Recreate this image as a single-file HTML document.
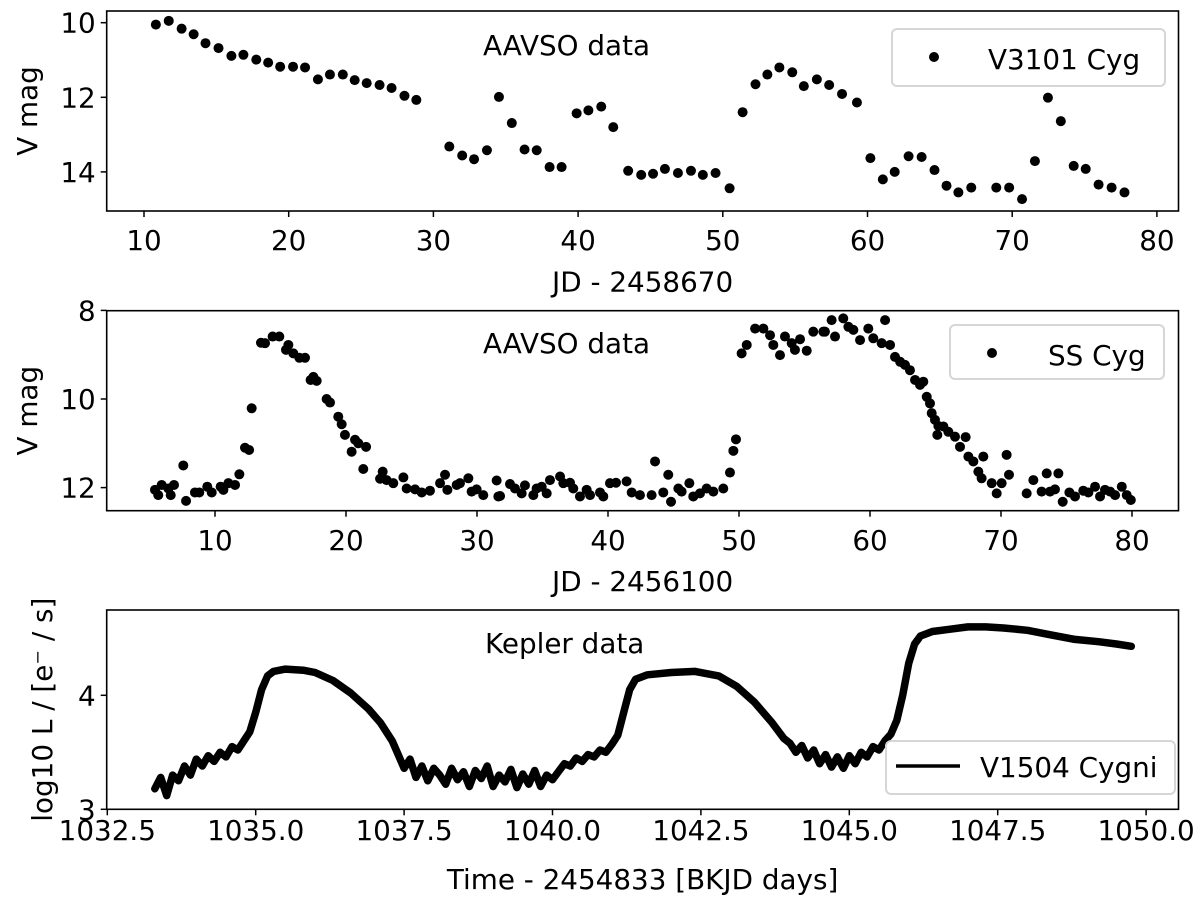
<!DOCTYPE html>
<html><head><meta charset="utf-8"><style>
html,body{margin:0;padding:0;background:#fff;}
svg{display:block;font-family:"DejaVu Sans","Liberation Sans",sans-serif;}
</style></head><body>
<svg id="fig" width="1200" height="906" viewBox="0 0 1200 906" xmlns="http://www.w3.org/2000/svg"></svg>
<script>
// ---- Panel 1: V3101 Cyg ----
const p1Days = [10.82,11.71,12.6,13.43,14.25,15.15,16.04,16.87,17.76,18.58,19.41,20.3,21.13,22.02,22.85,23.74,24.56,25.39,26.28,27.11,28.0,28.82,31.1,31.99,32.81,33.7,34.53,35.42,36.3,37.14,38.03,38.86,39.9,40.71,41.6,42.43,43.46,44.36,45.18,46.0,46.9,47.8,48.62,49.5,50.47,51.37,52.26,53.08,53.91,54.8,55.6,56.5,57.35,58.24,59.27,60.2,61.06,61.88,62.84,63.74,64.63,65.46,66.28,67.17,68.9,69.79,70.68,71.57,72.47,73.36,74.25,75.08,75.97,76.87,77.76];
const p1Mag = [10.05,9.95,10.16,10.31,10.55,10.68,10.89,10.86,10.99,11.07,11.18,11.18,11.2,11.52,11.39,11.39,11.54,11.62,11.67,11.75,11.96,12.07,13.32,13.56,13.66,13.42,11.99,12.69,13.4,13.42,13.87,13.87,12.43,12.35,12.25,12.8,13.97,14.08,14.05,13.92,14.03,13.97,14.08,14.03,14.44,12.4,11.65,11.39,11.2,11.33,11.7,11.52,11.67,11.91,12.14,13.63,14.2,14.0,13.58,13.6,13.95,14.37,14.55,14.42,14.42,14.42,14.73,13.71,12.01,12.64,13.84,13.92,14.34,14.42,14.55];
const p1XTicks = [10,20,30,40,50,60,70,80];
const p1YTicks = [10,12,14];

// ---- Panel 2: SS Cyg ----
const p2Days = [5.42,5.67,5.93,6.44,6.62,6.87,7.58,7.79,8.47,8.8,9.41,9.75,10.43,10.64,11.02,11.53,11.86,12.29,12.6,12.8,13.51,13.82,14.4,14.91,15.42,15.6,15.98,16.44,16.87,17.3,17.51,17.76,18.52,18.78,19.41,19.67,19.92,20.43,20.69,20.94,21.32,21.53,22.6,22.8,23.1,23.61,24.38,24.63,25.27,25.78,26.41,27.18,27.56,27.74,28.45,28.7,29.34,29.59,29.97,30.48,31.5,31.63,
31.76,32.52,32.9,33.41,33.66,34.3,34.55,34.94,35.32,35.57,36.34,36.59,37.1,37.35,37.86,38.37,38.63,39.39,39.64,40.15,40.61,41.42,41.81,42.44,43.33,43.59,44.22,44.6,44.81,45.37,45.62,46.21,46.51,47.02,47.53,48.04,48.8,49.31,49.57,49.77,50.2,50.59,51.23,51.86,52.37,52.62,53.13,53.51,54.02,54.27,54.66,55.17,55.67,56.44,57.07,57.33,
56.56,57.96,58.35,58.73,59.24,59.87,60.25,60.89,61.15,61.53,61.91,62.3,62.67,63.05,63.44,63.82,64.07,64.33,64.58,64.71,64.96,65.14,65.22,65.6,65.98,66.49,66.87,67.3,67.51,67.89,68.27,68.52,68.65,69.29,69.67,70.05,70.43,70.61,71.96,72.47,73.1,73.49,73.74,74.12,74.38,74.71,75.22,75.65,76.28,76.67,77.18,77.56,77.94,78.33,78.71,79.22,79.6,79.91];
const p2Mag = [12.05,12.17,11.94,12.02,12.17,11.94,11.5,12.3,12.11,12.11,11.98,12.11,11.98,12.05,11.9,11.94,11.7,11.1,11.15,10.21,8.73,8.74,8.59,8.59,8.89,8.78,8.97,9.07,9.07,9.57,9.5,9.59,10.0,10.08,10.4,10.57,10.81,11.19,10.92,11.0,11.58,11.08,11.8,11.64,11.83,11.9,11.77,12.02,12.04,12.11,12.07,11.9,11.71,12.05,11.94,11.9,11.79,12.09,12.04,12.17,11.84,12.2,
12.19,11.92,12.02,12.13,11.95,12.17,12.02,11.98,12.13,11.83,11.75,11.9,11.89,12.02,12.2,12.05,12.17,12.11,12.2,11.9,11.89,11.86,12.11,12.17,12.17,11.41,12.11,11.71,12.32,12.02,12.09,11.9,12.2,12.13,12.02,12.09,12.02,11.66,11.17,10.91,8.97,8.78,8.41,8.41,8.56,8.78,9.01,8.59,8.74,8.89,8.65,8.91,8.48,8.48,8.22,8.59,
8.48,8.18,8.37,8.44,8.67,8.41,8.63,8.74,8.22,8.78,9.05,9.16,9.23,9.35,9.57,9.68,9.61,9.95,10.1,10.32,10.47,10.81,10.61,10.62,10.74,10.85,11.08,10.86,11.3,11.41,11.64,11.79,11.3,11.9,12.13,11.9,11.26,11.71,12.13,11.83,12.09,11.68,12.09,12.04,11.68,12.32,12.11,12.2,12.07,12.11,11.98,12.2,12.05,12.09,12.17,11.98,12.17,12.28];
const p2XTicks = [10,20,30,40,50,60,70,80];
const p2YTicks = [8,10,12];

// ---- Panel 3: V1504 Cygni (Kepler) ----
const p3Time = [1033.3,1033.4,1033.5,1033.6,1033.7,1033.8,1033.9,1034.0,1034.1,1034.2,1034.3,1034.4,1034.5,1034.6,1034.7,1034.8,
1034.9,1035.0,1035.1,1035.2,1035.3,1035.5,1035.8,1036.0,1036.3,1036.6,1036.9,1037.1,1037.3,
1037.4,1037.5,1037.6,1037.7,1037.8,1037.9,1038.0,1038.1,1038.2,1038.3,1038.4,1038.5,1038.6,1038.7,1038.8,1038.9,1039.0,1039.1,1039.2,1039.3,1039.4,1039.5,1039.6,1039.7,1039.8,1039.9,1040.0,
1040.1,1040.2,1040.3,1040.4,1040.5,1040.6,1040.7,1040.8,1040.9,1041.0,
1041.1,1041.2,1041.3,1041.4,1041.6,1042.0,1042.4,1042.8,1043.1,1043.4,1043.7,1043.9,
1044.0,1044.1,1044.2,1044.3,1044.4,1044.5,1044.6,1044.7,1044.8,1044.9,1045.0,1045.1,1045.2,1045.3,1045.4,1045.5,1045.6,
1045.7,1045.8,1045.9,1046.0,1046.1,1046.2,1046.4,1046.7,1047.0,1047.3,1047.6,1048.0,1048.4,1048.8,1049.2,1049.5,1049.75];
const p3Flux = [3.18,3.28,3.12,3.3,3.25,3.38,3.3,3.44,3.38,3.47,3.42,3.5,3.46,3.55,3.52,3.6,
3.68,3.85,4.05,4.17,4.21,4.23,4.22,4.2,4.13,4.02,3.88,3.76,3.6,
3.48,3.36,3.44,3.28,3.38,3.25,3.36,3.3,3.22,3.36,3.26,3.33,3.2,3.34,3.27,3.38,3.2,3.3,3.24,3.35,3.19,3.31,3.22,3.34,3.2,3.3,3.26,
3.33,3.4,3.38,3.45,3.42,3.48,3.46,3.52,3.5,3.57,
3.65,3.85,4.05,4.14,4.18,4.2,4.21,4.17,4.08,3.94,3.76,3.62,
3.58,3.5,3.56,3.45,3.52,3.4,3.48,3.37,3.46,3.36,3.47,3.4,3.5,3.46,3.55,3.52,3.6,
3.66,3.78,4.0,4.28,4.45,4.52,4.56,4.58,4.6,4.6,4.59,4.57,4.53,4.49,4.47,4.45,4.43];
const p3XTicks = [1032.5,1035.0,1037.5,1040.0,1042.5,1045.0,1047.5,1050.0];
const p3YTicks = [3,4];

const NS = "http://www.w3.org/2000/svg";
const svg = document.getElementById('fig');
function mk(tag, attrs, parent){
  const e = document.createElementNS(NS, tag);
  for (const k in attrs) e.setAttribute(k, attrs[k]);
  (parent||svg).appendChild(e);
  return e;
}
const L = 106.7, R = 1178.5, FS = 27.8;

function panel(o){
  const g = mk('g', {});
  
  
  o.xt.forEach(v => {
    const x = o.sx(v);
    const t = mk('line', {x1:x, x2:x, y1:o.bot, y2:o.bot+6, stroke:'#000','stroke-width':1.5}, g);
    
    
    const tx = mk('text', {x:x, y:o.xlabY, 'font-size':FS, 'text-anchor':'middle', fill:'#000'}, g);
    tx.textContent = o.xfmt ? o.xfmt(v) : v;
    
    
  });
  o.yt.forEach(v => {
    const y = o.sy(v);
    const t = mk('line', {x1:L-6, x2:L, y1:y, y2:y, stroke:'#000','stroke-width':1.5}, g);
    
    
    const tx = mk('text', {x:L-11, y:y+10, 'font-size':FS, 'text-anchor':'end', fill:'#000'}, g);
    tx.textContent = v;
    
    
  });
  const xl = mk('text', {x:(L+R)/2, y:o.xtitleY, 'font-size':FS, 'text-anchor':'middle', fill:'#000'}, g);
  xl.textContent = o.xtitle;
  
  
  const yl = mk('text', {x:0, y:0, 'font-size':FS, 'text-anchor':'middle', fill:'#000', transform:`translate(${o.ytitleX},${(o.top+o.bot)/2}) rotate(-90)`}, g);
  yl.textContent = o.ytitle;
  
  
  const an = mk('text', {x:o.annX, y:o.annY, 'font-size':FS, fill:'#000'}, g);
  an.textContent = o.ann;
  
  
  return g;
}
function frame(g, top, bot){
  const f = mk('rect', {x:L, y:top, width:R-L, height:bot-top, fill:'none', stroke:'#000', 'stroke-width':1.6}, g);
  
  
}
function legend(g, x, y, w, h, label, kind, mx, my, tx, ty){
  const lg = mk('g', {}, g);
  
  
  mk('rect', {x:x, y:y, width:w, height:h, rx:5, fill:'rgba(255,255,255,0.8)', stroke:'#d6d6d6', 'stroke-width':2}, lg);
  if (kind === 'dot') {
    const d = mk('circle', {cx:mx, cy:my, r:5, fill:'#000'}, lg);
    
    
  } else {
    const d = mk('line', {x1:mx, x2:mx+64, y1:my, y2:my, stroke:'#000', 'stroke-width':3.5}, lg);
    
    
  }
  const t = mk('text', {x:tx, y:ty, 'font-size':FS, fill:'#000'}, lg);
  t.textContent = label;
  
  
}

// Panel 1
const sx1 = v => 144 + (v-10)*14.47;
const sy1 = v => 22.7 + (v-10)*37.3;
const g1 = panel({name:'panel-v3101-cyg', sx:sx1, sy:sy1, xt:p1XTicks, yt:p1YTicks, top:11, bot:211,
  xlabY:250, xtitleY:291.5, xtitle:'JD - 2458670', ytitle:'V mag', ytitleX:37, ann:'AAVSO data', annX:483, annY:55});
p1Days.forEach((d,i) => {
  const c = mk('circle', {cx:sx1(d), cy:sy1(p1Mag[i]), r:5, fill:'#000'}, g1);
  
  
});
frame(g1, 11, 211);
legend(g1, 892, 29, 273, 57, 'V3101 Cyg', 'dot', 934, 57, 988, 69);

// Panel 2
const sx2 = v => 215 + (v-10)*13.1;
const sy2 = v => 399 + (v-10)*44.3;
const g2 = panel({name:'panel-ss-cyg', sx:sx2, sy:sy2, xt:p2XTicks, yt:p2YTicks, top:310.7, bot:510.7,
  xlabY:550, xtitleY:591, xtitle:'JD - 2456100', ytitle:'V mag', ytitleX:37, ann:'AAVSO data', annX:483, annY:353});
p2Days.forEach((d,i) => {
  const c = mk('circle', {cx:sx2(d), cy:sy2(p2Mag[i]), r:5, fill:'#000'}, g2);
  
  
});
frame(g2, 310.7, 510.7);
legend(g2, 950, 325, 214, 54, 'SS Cyg', 'dot', 992, 353, 1048, 365);

// Panel 3
const sx3 = v => 107.3 + (v-1032.5)*59.36;
const sy3 = v => 809.3 - (v-3)*114;
const g3 = panel({name:'panel-v1504-cygni', sx:sx3, sy:sy3, xt:p3XTicks, yt:p3YTicks, top:610, bot:809.3,
  xlabY:840, xtitleY:889, xtitle:'Time - 2454833 [BKJD days]', ytitle:'log10 L / [e\u207B / s]', ytitleX:52,
  xfmt:v=>v.toFixed(1), ann:'Kepler data', annX:485, annY:653});
const pts = p3Time.map((t,i) => sx3(t).toFixed(1)+','+sy3(p3Flux[i]).toFixed(1)).join(' ');
const pl = mk('polyline', {points:pts, fill:'none', stroke:'#000', 'stroke-width':7.5, 'stroke-linejoin':'round', 'stroke-linecap':'round'}, g3);


frame(g3, 610, 809.3);
legend(g3, 886, 741, 289, 53, 'V1504 Cygni', 'line', 896, 766, 980, 777);
</script>
</body></html>
